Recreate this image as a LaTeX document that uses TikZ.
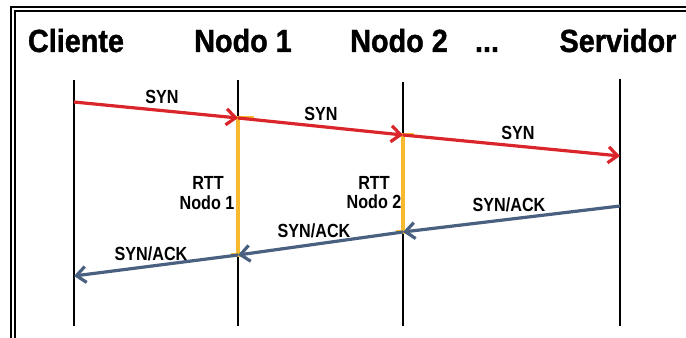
\documentclass[tikz,border=0pt]{standalone}
\usepackage{fontspec}
\setmainfont{Liberation Sans}
\newfontfamily\headfont{Liberation Sans}[FakeStretch=0.9, BoldFeatures={FakeBold=1.2}]
\newfontfamily\lblfont{Liberation Sans}[FakeStretch=0.85]
\usetikzlibrary{arrows.meta}
\definecolor{synred}{RGB}{218,37,42}
\definecolor{ackblue}{RGB}{74,96,128}
\definecolor{rttyellow}{RGB}{247,185,45}
\begin{document}
\begin{tikzpicture}[x=0.75pt,y=-0.75pt,
  head/.style={font=\headfont\fontsize{24pt}{28pt}\selectfont\bfseries, anchor=base, inner sep=0pt},
  lbl/.style={font=\lblfont\fontsize{14.25pt}{16pt}\selectfont\bfseries, inner sep=0pt},
  lifeline/.style={line width=1.5pt, black},
  synmsg/.style={line width=2.4pt, synred, -{Straight Barb[length=7pt,width=12pt]}},
  ackmsg/.style={line width=2.4pt, ackblue, -{Straight Barb[length=7pt,width=12pt]}},
  rtt/.style={line width=2.4pt, rttyellow},
  rttcap/.style={line width=2.4pt, rttyellow}
]
\useasboundingbox (0,0) rectangle (686,338);
\clip (0,0) rectangle (686,338);
% frame
\draw[line width=2pt] (11,7) rectangle (720,360);
\draw[line width=0.9pt] (15,11) rectangle (716,356);

% headers
\node[head] (hC) at (76,52) {Cliente};
\node[head] (hN1) at (243,52) {Nodo 1};
\node[head] (hN2) at (399,52) {Nodo 2};
\node[head] (hdots) at (487,52) {...};
\node[head] (hS) at (618,52) {Servidor};

% lifeline endpoints
\coordinate (Ct) at (74,80);   \coordinate (Cb) at (74,326);
\coordinate (N1t) at (238,80); \coordinate (N1b) at (238,326);
\coordinate (N2t) at (403,82); \coordinate (N2b) at (403,326);
\coordinate (St) at (620,79);  \coordinate (Sb) at (620,326);

\draw[lifeline] (Ct) -- (Cb);
\draw[lifeline] (N1t) -- (N1b);
\draw[lifeline] (N2t) -- (N2b);
\draw[lifeline] (St) -- (Sb);

% message points
\coordinate (c1) at (74,102);
\coordinate (n1a) at (238,118);
\coordinate (n2a) at (403,135);
\coordinate (s1) at (620,156);
\coordinate (s2) at (620,206);
\coordinate (n2b) at (403,232);
\coordinate (n1b) at (238,255);
\coordinate (c2) at (74,276);

% RTT bars
\draw[rtt] (n1a) -- (n1b);
\draw[rttcap] ([xshift=-5]n1a) -- ([xshift=12]n1a);
\draw[rttcap] ([xshift=-5]n1b) -- ([xshift=5]n1b);
\draw[rtt] (n2a) -- (n2b);
\draw[rttcap] ([xshift=-5]n2a) -- ([xshift=8]n2a);
\draw[rttcap] ([xshift=-5]n2b) -- ([xshift=5]n2b);

% SYN messages
\draw[synmsg] (c1) -- (n1a);
\draw[synmsg] (n1a) -- (n2a);
\draw[synmsg] (n2a) -- (s1);

% SYN/ACK messages
\draw[ackmsg] (s2) -- (n2b);
\draw[ackmsg] (n2b) -- (n1b);
\draw[ackmsg] (n1b) -- (c2);

% labels
\node[lbl] (l1) at (162,97) {SYN};
\node[lbl] (l2) at (321,114) {SYN};
\node[lbl] (l3) at (518,133) {SYN};
\node[lbl] (l4) at (509,205) {SYN/ACK};
\node[lbl] (l5) at (314,231) {SYN/ACK};
\node[lbl] (l6) at (151,254) {SYN/ACK};
\node[lbl] (r1a) at (208,183) {RTT};
\node[lbl] (r1b) at (207,203) {Nodo 1};
\node[lbl] (r2a) at (374,183) {RTT};
\node[lbl] (r2b) at (374,202) {Nodo 2};
\end{tikzpicture}
\end{document}
